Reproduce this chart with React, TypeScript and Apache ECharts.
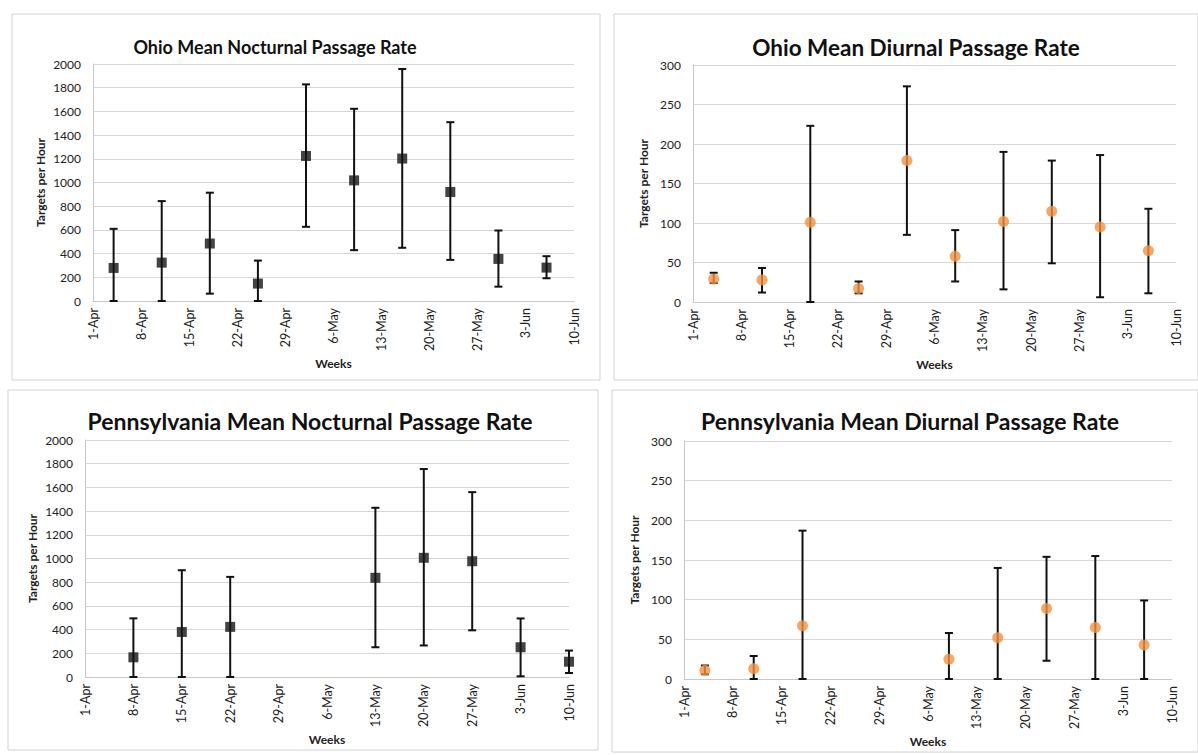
import React, { useEffect, useRef } from "react";
import * as echarts from "echarts";

const weekLabels = ["1-Apr", "8-Apr", "15-Apr", "22-Apr", "29-Apr", "6-May", "13-May", "20-May", "27-May", "3-Jun", "10-Jun"];

// day offsets from 1-Apr
const ohioNightDays = [3, 10, 17, 24, 31, 38, 45, 52, 59, 66];
const ohioNightMean = [279, 324, 485, 147, 1224, 1018, 1202, 920, 355, 282];
const ohioNightLow = [0, 0, 62, 0, 626, 429, 449, 347, 121, 192];
const ohioNightHigh = [609, 843, 914, 341, 1828, 1622, 1958, 1509, 595, 378];

const ohioDayDays = [3, 10, 17, 24, 31, 38, 45, 52, 59, 66];
const ohioDayMean = [29, 28, 101, 17, 179, 58, 102, 115, 95, 65];
const ohioDayLow = [24, 12, 0, 11, 85, 26, 16, 49, 6, 11];
const ohioDayHigh = [37, 43, 223, 26, 273, 91, 190, 179, 186, 118];

const paNightDays = [7, 14, 21, 42, 49, 56, 63, 70];
const paNightMean = [166, 380, 423, 837, 1006, 977, 251, 129];
const paNightLow = [0, 0, 0, 251, 266, 394, 6, 34];
const paNightHigh = [495, 901, 845, 1428, 1755, 1560, 494, 223];

const paDayDays = [3, 10, 17, 38, 45, 52, 59, 66];
const paDayMean = [11, 13, 67, 25, 52, 89, 65, 43];
const paDayLow = [6, 0, 0, 0, 0, 23, 0, 0];
const paDayHigh = [17, 29, 187, 58, 140, 154, 155, 99];

const titles = [
  "Ohio Mean Nocturnal Passage Rate",
  "Ohio Mean Diurnal Passage Rate",
  "Pennsylvania Mean Nocturnal Passage Rate",
  "Pennsylvania Mean Diurnal Passage Rate",
];

const FONT = "Lato";

export default function App() {
  const ref = useRef<HTMLDivElement>(null);
  useEffect(() => {
    if (!ref.current) return;
    const chart = echarts.init(ref.current, null, { renderer: "svg" });

    const grids = [
      { left: 93, top: 64, width: 481, height: 237 },
      { left: 693, top: 65, width: 483, height: 237 },
      { left: 85, top: 440, width: 484, height: 237 },
      { left: 684, top: 441, width: 488, height: 238 },
    ];
    const yMax = [2000, 300, 2000, 300];
    const yInt = [200, 50, 200, 50];
    const titlePos = [
      { x: 270, y: 33, size: 18 },
      { x: 911, y: 31, size: 22.5 },
      { x: 305, y: 404, size: 23 },
      { x: 905, y: 404, size: 23 },
    ];
    const sets = [
      [ohioNightDays, ohioNightMean, ohioNightLow, ohioNightHigh],
      [ohioDayDays, ohioDayMean, ohioDayLow, ohioDayHigh],
      [paNightDays, paNightMean, paNightLow, paNightHigh],
      [paDayDays, paDayMean, paDayLow, paDayHigh],
    ];

    const errRender = (params: any, api: any) => {
      const x = api.value(0);
      const lo = api.value(1);
      const hi = api.value(2);
      const a = api.coord([x, hi]);
      const b = api.coord([x, lo]);
      const w = 4;
      const st = { stroke: "#111", lineWidth: 2 };
      return {
        type: "group",
        children: [
          { type: "line", shape: { x1: a[0], y1: a[1], x2: b[0], y2: b[1] }, style: st },
          { type: "line", shape: { x1: a[0] - w, y1: a[1], x2: a[0] + w, y2: a[1] }, style: st },
          { type: "line", shape: { x1: b[0] - w, y1: b[1], x2: b[0] + w, y2: b[1] }, style: st },
        ],
      };
    };

    const series: any[] = [];
    sets.forEach((s, i) => {
      const [d, m, lo, hi] = s;
      series.push({
        type: "custom",
        xAxisIndex: i,
        yAxisIndex: i,
        renderItem: errRender,
        encode: { x: 0, y: [1, 2] },
        data: d.map((v, k) => [v, lo[k], hi[k]]),
        z: 2,
      });
      const night = i % 2 === 0;
      series.push({
        type: "scatter",
        xAxisIndex: i,
        yAxisIndex: i,
        symbol: night ? "rect" : "circle",
        symbolSize: night ? 10 : 11,
        itemStyle: { color: night ? "#141414" : "#f5913e" },
        data: d.map((v, k) => [v, m[k]]),
        z: 3,
      });
    });

    const panelRects = [
      { x: 12, y: 14, width: 588, height: 366 },
      { x: 614, y: 14, width: 584, height: 366 },
      { x: 8, y: 390, width: 590, height: 360 },
      { x: 612, y: 390, width: 586, height: 362 },
    ];

    chart.setOption({
      animation: false,
      backgroundColor: "#ffffff",
      textStyle: { fontFamily: FONT },
      graphic: panelRects.map((r) => ({
        type: "rect",
        shape: r,
        style: { fill: "none", stroke: "#d2d2d2", lineWidth: 1 },
        silent: true,
      })),
      title: titles.map((t, i) => ({
        text: t,
        left: titlePos[i].x,
        top: titlePos[i].y,
        textAlign: "center",
        textStyle: { fontFamily: FONT, fontWeight: "bold", fontSize: titlePos[i].size, color: "#111" },
      })),
      grid: grids.map((g) => ({ ...g, containLabel: false })),
      xAxis: grids.map((_, i) => ({
        type: "value",
        gridIndex: i,
        min: 0,
        max: 70,
        interval: 7,
        name: "Weeks",
        nameLocation: "middle",
        nameGap: 56,
        nameTextStyle: { fontFamily: FONT, fontWeight: "bold", fontSize: 12, color: "#222" },
        axisLine: { show: true, lineStyle: { color: "#c8c8c8" } },
        axisTick: { show: false },
        splitLine: { show: false },
        axisLabel: {
          rotate: 90,
          fontSize: 12.5,
          color: "#222",
          margin: 7,
          formatter: (v: number) => weekLabels[Math.round(v / 7)] ?? "",
        },
      })),
      yAxis: grids.map((_, i) => ({
        type: "value",
        gridIndex: i,
        min: 0,
        max: yMax[i],
        interval: yInt[i],
        name: "Targets per Hour",
        nameLocation: "middle",
        nameRotate: 90,
        nameGap: i % 2 === 0 ? 47 : 44,
        nameTextStyle: { fontFamily: FONT, fontWeight: "bold", fontSize: 12, color: "#222" },
        axisLine: { show: true, lineStyle: { color: "#c8c8c8" } },
        axisTick: { show: false },
        splitLine: { show: true, lineStyle: { color: "#d6d6d6" } },
        axisLabel: { fontSize: 12, color: "#222", margin: 12, formatter: (v: number) => String(v) },
      })),
      series,
    });
    return () => chart.dispose();
  }, []);
  return (
    <div
      ref={ref}
      style={{ position: "absolute", left: 0, top: 0, width: 1198, height: 755 }}
    />
  );
}
